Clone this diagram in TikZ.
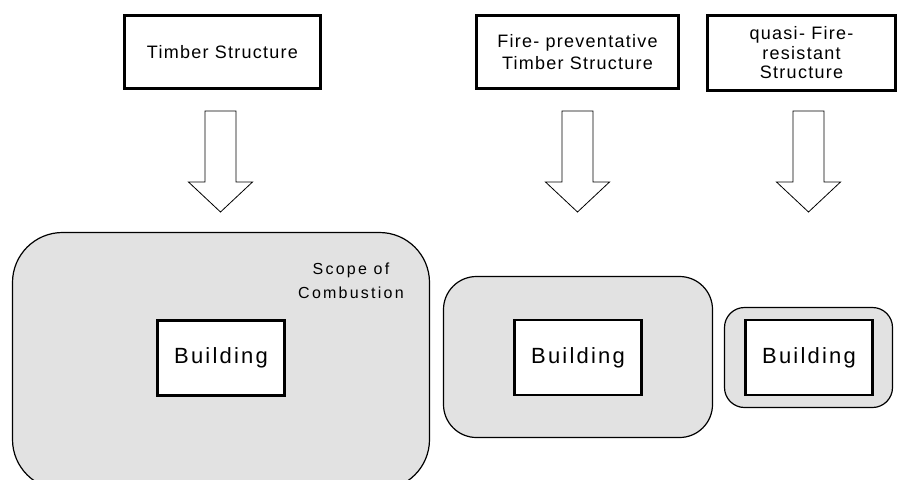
\documentclass[tikz,border=0pt]{standalone}
\usepackage{fontspec}
\usepackage{tikz}
\usepackage{xcolor}

\newfontfamily\spacedfont[LetterSpace=7]{Liberation Sans}
\newfontfamily\buildfont[LetterSpace=10]{Liberation Sans}
\newfontfamily\scopefont[LetterSpace=14]{Liberation Sans}
\definecolor{scopegray}{gray}{0.885}

\begin{document}
\begin{tikzpicture}[x=1pt, y=-1pt,
    topbox/.style={draw, rectangle, line width=2.6pt, minimum height=73pt, align=center, inner sep=2pt,
        font=\spacedfont\fontsize{18}{22}\selectfont},
    buildbox/.style={draw, rectangle, line width=2.6pt, fill=white, minimum width=127pt, minimum height=75pt,
        font=\buildfont\fontsize{22}{24}\selectfont},
    scopebox/.style={draw, rectangle, line width=1.2pt, fill=scopegray},
    blockarrow/.style={draw, line width=0.8pt, fill=white, line join=miter}]
            \useasboundingbox (0,0) rectangle (899,479);
            \clip (0,0) rectangle (899,479);

            % Structure types (top row)
            \node[topbox, minimum width=196pt] (timber) at (222.5, 52) {Timber Structure};
            \node[topbox, minimum width=202pt] (fireprev) at (577.5, 52) {Fire- preventative\\Timber Structure};
            \node[topbox, minimum width=188pt, minimum height=75pt, font=\spacedfont\fontsize{18}{19.5}\selectfont] (quasi) at (801.5, 53) {quasi- Fire-\\resistant\\Structure};

            % Block arrows down to the buildings
            \foreach \ax in {220.5, 577.5, 808.5}
                \draw[blockarrow] (\ax-15.5, 111) -- (\ax+15.5, 111) -- (\ax+15.5, 182) -- (\ax+32, 182)
                    -- (\ax, 212) -- (\ax-32, 182) -- (\ax-15.5, 182) -- cycle;

            % Scopes of combustion (grey rounded areas)
            \node[scopebox, rounded corners=50pt, minimum width=417pt, minimum height=257pt] (scopeA) at (221, 361) {};
            \node[scopebox, rounded corners=33pt, minimum width=269pt, minimum height=161pt] (scopeB) at (578, 357) {};
            \node[scopebox, rounded corners=20pt, minimum width=168pt, minimum height=100pt] (scopeC) at (808.5, 357.5) {};

            % Label for the scope
            \node[align=center, font=\scopefont\fontsize{16}{23.5}\selectfont] (scopelabel) at (351, 281) {Scope of\\Combustion};

            % Buildings
            \node[buildbox] (buildA) at (221, 358) {Building};
            \node[buildbox] (buildB) at (578, 357.5) {Building};
            \node[buildbox] (buildC) at (809, 357.5) {Building};
        \end{tikzpicture}
\end{document}
